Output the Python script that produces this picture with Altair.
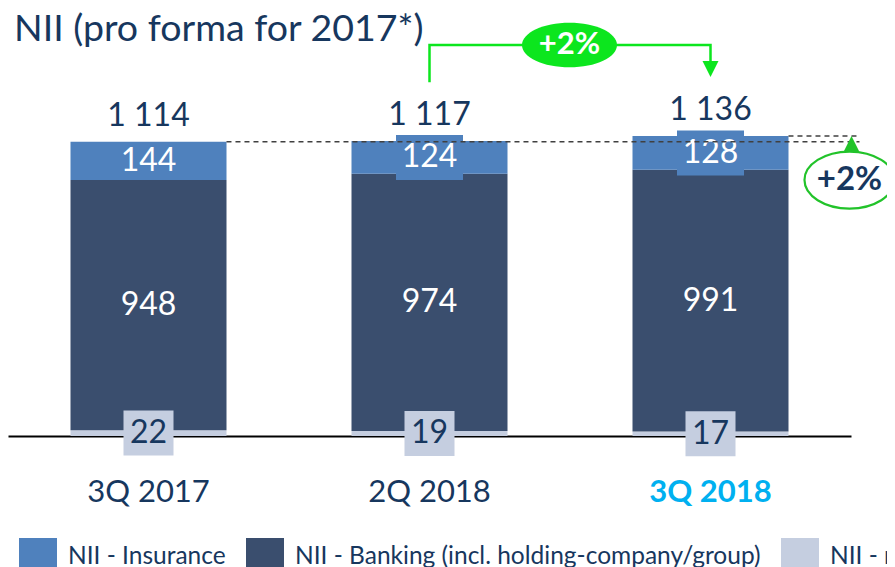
import altair as alt
import pandas as pd

# ---- data ----
quarters = ["3Q 2017", "2Q 2018", "3Q 2018"]
insurance = [144, 124, 128]
banking = [948, 974, 991]
noncore = [22, 19, 17]
totals = [1114, 1117, 1136]
segments = ["NII - Insurance", "NII - Banking (incl. holding-company/group)", "NII - non-core"]
seg_colors = ["#4F81BD", "#3A4E6E", "#C5CEE0"]
ins_box_show = [False, True, True]
growth_label = "+2%"
bracket_points_cat = ["2Q 2018", "2Q 2018", "3Q 2018", "3Q 2018"]
bracket_points_y = [1340, 1481, 1481, 1417]
bracket_arrow_tip = 1360

NAVY = "#17375E"
GREEN = "#0CE61E"
RING = "#22C32A"
FONT = "Lato"

rows = []
for q, i, b, n in zip(quarters, insurance, banking, noncore):
    rows.append({"q": q, "seg": segments[2], "v": n, "o": 0})
    rows.append({"q": q, "seg": segments[1], "v": b, "o": 1})
    rows.append({"q": q, "seg": segments[0], "v": i, "o": 2})
bars_df = pd.DataFrame(rows)

lab = pd.DataFrame({
    "q": quarters,
    "total": totals,
    "ins": insurance, "bank": banking, "nc": noncore,
    "ins_mid": [n + b + i / 2 for i, b, n in zip(insurance, banking, noncore)],
    "bank_mid": [n + b / 2 for b, n in zip(banking, noncore)],
    "nc_mid": [n / 2 for n in noncore],
    "box": ins_box_show,
})

xscale = alt.Scale(domain=quarters, paddingInner=0.445, paddingOuter=0.2225)
yscale = alt.Scale(domain=[0, 1621], nice=False, zero=True)

label_color = alt.expr(f"datum.value == '3Q 2018' ? '#00B0F0' : '{NAVY}'")
label_weight = alt.expr("datum.value == '3Q 2018' ? 'bold' : 'normal'")
AX = alt.Axis(domainColor="black", domainWidth=2, ticks=False, grid=False, title=None,
              labelFont=FONT, labelFontSize=31, labelColor=label_color,
              labelFontWeight=label_weight, labelPadding=41, labelAngle=0)


def X(field, band=None):
    if band is None:
        return alt.X(field, scale=xscale, sort=quarters, axis=AX, title=None)
    return alt.X(field, scale=xscale, sort=quarters, axis=AX, title=None, bandPosition=band)


bars = alt.Chart(bars_df).mark_bar(size=156).encode(
    x=X("q:N"),
    y=alt.Y("v:Q", stack="zero", scale=yscale, axis=None),
    color=alt.Color("seg:N", scale=alt.Scale(domain=segments, range=seg_colors),
                    legend=alt.Legend(orient="none", legendX=11, legendY=530, direction="horizontal",
                                      title=None, symbolType="M-1,-1H1V1H-1Z", symbolSize=1444,
                                      symbolStrokeWidth=0, symbolOpacity=1, labelFont=FONT,
                                      labelFontSize=24.5, labelColor=NAVY, labelOffset=11,
                                      columnPadding=20, labelLimit=700)),
    order=alt.Order("o:Q"),
)

base = alt.Chart(lab)

ins_box = base.transform_filter("datum.box").mark_point(
    shape="M-1,-0.67H1V0.67H-1Z", filled=True, opacity=1, size=67 * 67, color=seg_colors[0], strokeWidth=0
).encode(x=X("q:N"), y=alt.Y("ins_mid:Q", scale=yscale, axis=None))

nc_box = base.mark_point(
    shape="M-1,-0.9H1V0.9H-1Z", filled=True, opacity=1, size=50 * 50, color=seg_colors[2], strokeWidth=0
).encode(x=X("q:N"), y=alt.Y("nc_mid:Q", scale=yscale, axis=None))

ins_txt = base.mark_text(font=FONT, fontSize=32, color="white", baseline="middle").encode(
    x=X("q:N"), y=alt.Y("ins_mid:Q", scale=yscale, axis=None), text="ins:Q")
bank_txt = base.mark_text(font=FONT, fontSize=32, color="white", baseline="middle").encode(
    x=X("q:N"), y=alt.Y("bank_mid:Q", scale=yscale, axis=None), text="bank:Q")
nc_txt = base.mark_text(font=FONT, fontSize=32, color=NAVY, baseline="middle").encode(
    x=X("q:N"), y=alt.Y("nc_mid:Q", scale=yscale, axis=None), text="nc:Q")
tot_txt = base.transform_calculate(
    t="replace(format(datum.total, ','), ',', ' ')"
).mark_text(font=FONT, fontSize=32, color=NAVY, baseline="middle", dy=-26).encode(
    x=X("q:N"), y=alt.Y("total:Q", scale=yscale, axis=None), text="t:N")

# dashed reference lines
dash1 = alt.Chart(pd.DataFrame({"q": [quarters[0]], "b": [quarters[2]], "y": [totals[0]]})).mark_rule(
    color="#404040", strokeWidth=1.5, strokeDash=[5, 4], x2Offset=71
).encode(x=X("q:N", 1), x2=alt.X2("b:N", bandPosition=1), y=alt.Y("y:Q", scale=yscale, axis=None))
dash2 = alt.Chart(pd.DataFrame({"q": [quarters[2]], "b": [quarters[2]], "y": [totals[2]]})).mark_rule(
    color="#404040", strokeWidth=1.5, strokeDash=[5, 4], x2Offset=68
).encode(x=X("q:N", 1), x2=alt.X2("b:N", bandPosition=1), y=alt.Y("y:Q", scale=yscale, axis=None))

right_df = pd.DataFrame({"q": [quarters[2]], "y": [totals[2]], "t": [growth_label]})
up_arrow = alt.Chart(right_df).mark_point(
    shape="M0,0L-1,2L1,2Z", filled=True, opacity=1, size=225, color=RING, strokeWidth=0, xOffset=63
).encode(x=X("q:N", 1), y=alt.Y("y:Q", scale=yscale, axis=None))
ring = alt.Chart(right_df).mark_point(
    shape="M-1,0A1,0.633 0 1,0 1,0A1,0.633 0 1,0 -1,0Z", filled=False, opacity=1, size=8100,
    color=RING, strokeWidth=2.2, xOffset=61, yOffset=44
).encode(x=X("q:N", 1), y=alt.Y("y:Q", scale=yscale, axis=None))
ring_txt = alt.Chart(right_df).mark_text(
    font=FONT, fontSize=33, fontWeight="bold", color=NAVY, baseline="middle", dx=61, dy=44
).encode(x=X("q:N", 1), y=alt.Y("y:Q", scale=yscale, axis=None), text="t:N")

# bracket between 2Q 2018 and 3Q 2018
br_df = pd.DataFrame({"q": bracket_points_cat, "y": bracket_points_y, "o": [0, 1, 2, 3]})
bracket = alt.Chart(br_df).mark_line(color=GREEN, strokeWidth=2.5).encode(
    x=X("q:N"), y=alt.Y("y:Q", scale=yscale, axis=None), order="o:Q")
down_arrow = alt.Chart(pd.DataFrame({"q": [quarters[2]], "y": [bracket_arrow_tip]})).mark_point(
    shape="M0,0L-1,-2L1,-2Z", filled=True, opacity=1, size=256, color=GREEN, strokeWidth=0
).encode(x=X("q:N"), y=alt.Y("y:Q", scale=yscale, axis=None))
badge_df = pd.DataFrame({"q": [quarters[1]], "y": [bracket_points_y[1]], "t": [growth_label]})
badge = alt.Chart(badge_df).mark_point(
    shape="M-1,0A1,0.47 0 1,0 1,0A1,0.47 0 1,0 -1,0Z", filled=True, opacity=1, size=95 * 95,
    color=GREEN, strokeWidth=0, xOffset=62
).encode(x=X("q:N", 1), y=alt.Y("y:Q", scale=yscale, axis=None))
badge_txt = alt.Chart(badge_df).mark_text(
    font=FONT, fontSize=31, fontWeight="bold", color="white", baseline="middle", dx=62
).encode(x=X("q:N", 1), y=alt.Y("y:Q", scale=yscale, axis=None), text="t:N")

chart = alt.layer(
    bars, ins_box, nc_box, ins_txt, bank_txt, nc_txt, tot_txt,
    dash1, dash2, up_arrow, ring, ring_txt, bracket, down_arrow, badge, badge_txt
).properties(
    width=843, height=428,
    title=alt.TitleParams("NII (pro forma for 2017*)", anchor="start", font=FONT, fontSize=37.5,
                          fontWeight="normal", color=NAVY, dx=6, dy=40, offset=0, frame="group"),
    autosize=alt.AutoSizeParams(type="none"),
    padding={"left": 0, "top": 0, "right": 36, "bottom": 131},
).configure_view(strokeWidth=0)

chart.save("out.html", embed_options={"renderer": "svg", "actions": False})
